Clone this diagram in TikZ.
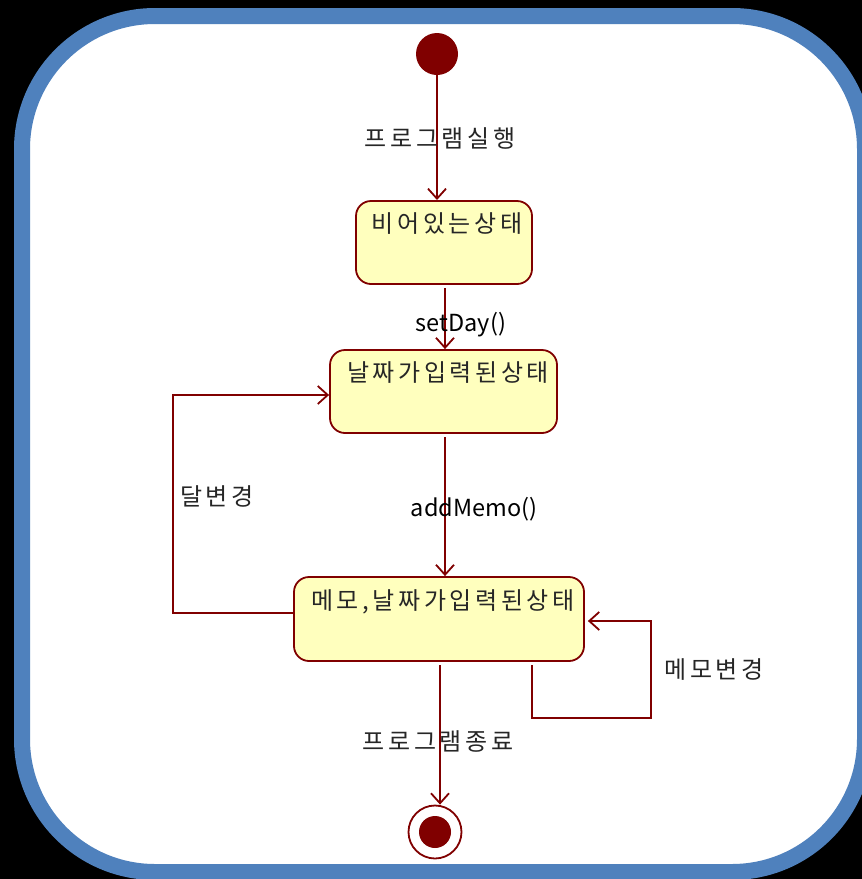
\documentclass[tikz,border=0pt]{standalone}
\usepackage{fontspec}
\setmainfont{Noto Sans CJK KR}
\newfontfamily\kr[LetterSpace=15]{Noto Sans CJK KR}
\usetikzlibrary{arrows.meta,calc}
\definecolor{dred}{RGB}{128,0,0}
\definecolor{byel}{RGB}{255,255,190}
\definecolor{bblue}{RGB}{79,129,189}
\tikzset{
  statebox/.style={draw=dred, line width=1.8pt, fill=byel, rounded corners=15pt, inner sep=0pt},
  boxtext/.style={font=\kr\fontsize{24}{28}\selectfont, text=black!85, inner sep=0pt},
  lbl/.style={font=\kr\fontsize{24}{28}\selectfont, text=black!85, inner sep=0pt},
  lbll/.style={font=\fontsize{23.5}{28}\selectfont, text=black, inner sep=0pt},
  arr/.style={draw=dred, line width=1.8pt, -{Straight Barb[length=10pt,width=18pt,line width=1.8pt]}},
}
\begin{document}
\begin{tikzpicture}[x=1pt,y=-1pt]
\useasboundingbox (0,0) rectangle (862,879);
\clip (0,0) rectangle (862,879);
\fill[black] (0,0) rectangle (862,879);
\draw[bblue, line width=16pt, fill=white, rounded corners=133pt] (22,16) rectangle (865,872);

\node[circle, fill=dred, minimum size=42pt, inner sep=0pt] (init) at (437,54) {};
\node[statebox, minimum width=176pt, minimum height=83pt] (b1) at (444,242.5) {};
\node[boxtext] (t1) at (447,224) {비어있는상태};
\node[statebox, minimum width=227pt, minimum height=83pt] (b2) at (443.5,391.5) {};
\node[boxtext] (t2) at (448,373) {날짜가입력된상태};
\node[statebox, minimum width=290pt, minimum height=84pt] (b3) at (439,619) {};
\node[boxtext] (t3) at (443,602) {메모,날짜가입력된상태};
\node[circle, draw=dred, line width=1.8pt, fill=white, minimum size=53pt, inner sep=0pt] (final) at (435,832) {};
\node[circle, fill=dred, minimum size=32pt, inner sep=0pt] (finalin) at (435,832) {};

\coordinate (a1) at (437,200);
\draw[arr] (init.south -| a1) -- (a1);
\coordinate (a2) at (445,288);
\draw[arr] (a2) -- (a2 |- b2.north);
\coordinate (a3) at (445,437);
\draw[arr] (a3) -- (a3 |- b3.north);
\coordinate (a4) at (440,665);
\draw[arr] (a4) -- (a4 |- final.north);

\coordinate (l1) at (173,613);
\coordinate (l2) at (173,395);
\draw[arr] (b3.west |- l1) -- (l1) -- (l2) -- (b2.west |- l2);

\coordinate (r0) at (532,665);
\coordinate (r1) at (532,718);
\coordinate (r2) at (651,718);
\coordinate (r3) at (651,621);
\draw[arr] (r0) -- (r1) -- (r2) -- (r3) -- ([xshift=3pt]b3.east |- r3);

\node[lbl] (e1) at (440,138) {프로그램실행};
\node[lbll] (e2) at (461,325) {setDay()};
\node[lbll] (e3) at (474,509) {addMemo()};
\node[lbl] (e4) at (217,496) {달변경};
\node[lbl] (e5) at (714,670) {메모변경};
\node[lbl] (e6) at (438,741) {프로그램종료};
\end{tikzpicture}
\end{document}
